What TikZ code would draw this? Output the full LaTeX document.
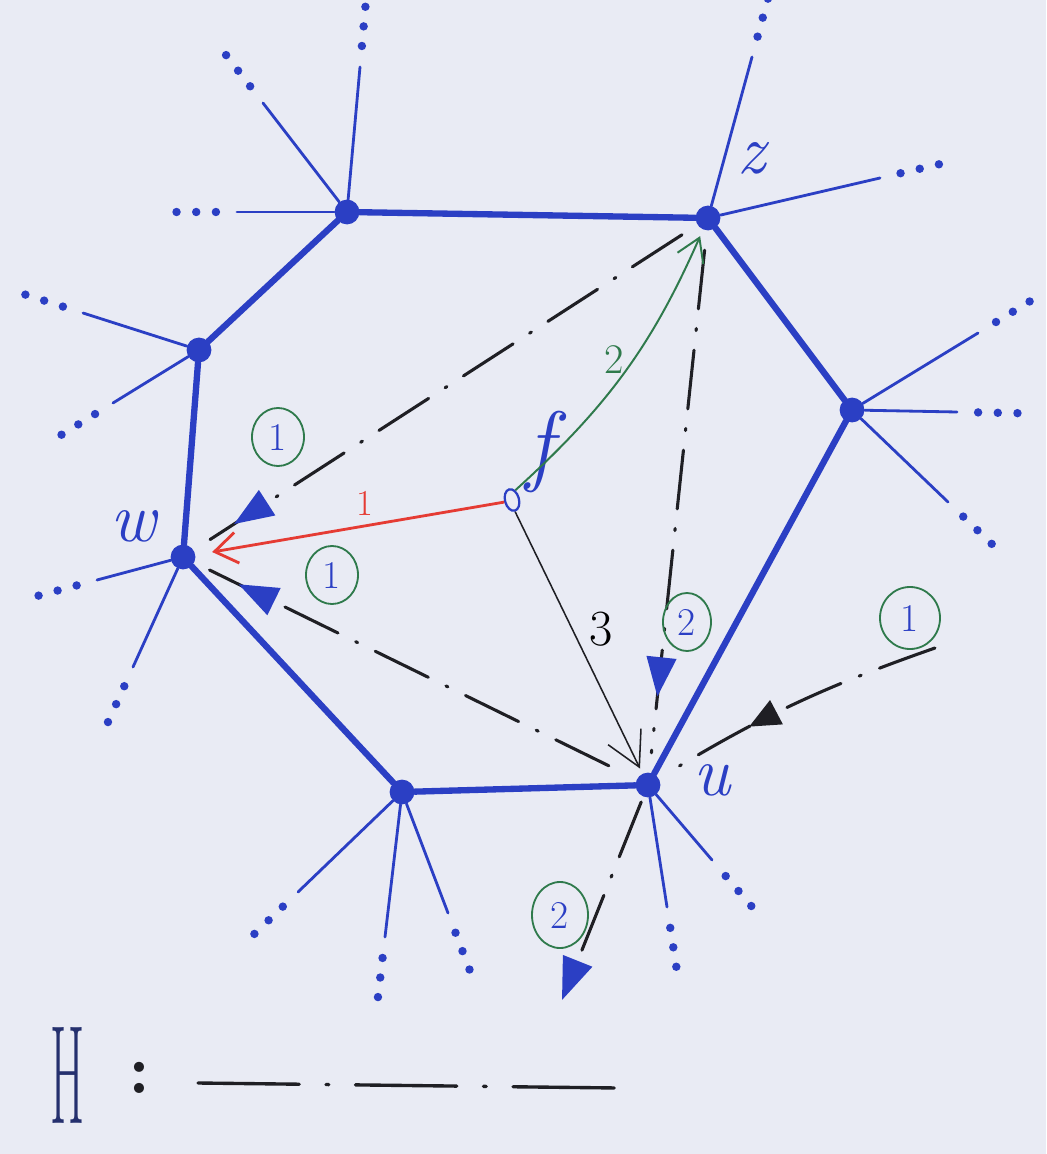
\documentclass[tikz,border=0pt]{standalone}
\usepackage{xcolor}
\usepackage{tikz}
\usetikzlibrary{shapes.geometric, arrows.meta, calc, decorations.markings}
\definecolor{ink}{HTML}{2B3FC4}
\definecolor{paper}{HTML}{E9EBF4}
\definecolor{redink}{HTML}{E53B33}
\definecolor{greenink}{HTML}{2F7A4C}
\definecolor{pen}{HTML}{1F1F24}
\definecolor{navy}{HTML}{25306E}

\begin{document}
\begin{tikzpicture}[
  x=0.025cm, y=-0.025cm,
  vtx/.style={circle, fill=ink, inner sep=0pt, minimum size=0.62cm},
  cyc/.style={draw=ink, line width=4.5pt, line cap=round, line join=round},
  leaf/.style={draw=ink, line width=2pt, line cap=round},
  hedge/.style={draw=pen, line width=2.2pt, line cap=round,
                dash pattern=on 42pt off 14pt on 1.5pt off 14pt},
  tipat/.style={postaction={decorate}, decoration={markings,
                mark=at position #1 with {\arrow{Triangle[length=28pt,width=21pt,color=ink]}}}},
  blktipat/.style={postaction={decorate}, decoration={markings,
                mark=at position #1 with {\arrow{Triangle[length=22pt,width=19pt,color=pen]}}}},
  tag/.style={ellipse, draw=greenink, line width=1.3pt, text=ink, inner sep=0pt,
              minimum width=1.3cm, minimum height=1.45cm, font=\fontsize{28}{28}\selectfont},
  lbl/.style={text=ink, font=\fontsize{50}{50}\selectfont\itshape},
  redarr/.style={draw=redink, line width=2pt, -{Straight Barb[length=16pt,width=22pt]}},
  greenarr/.style={draw=greenink, line width=1.4pt, -{Straight Barb[length=16pt,width=20pt]}},
  thinarr/.style={draw=pen, line width=1.1pt, -{Straight Barb[length=24pt,width=26pt]}},
  legend/.style={draw=pen, line width=2.4pt, line cap=round,
                 dash pattern=on 72pt off 19pt on 2pt off 19pt}
]
  \useasboundingbox (0,0) rectangle (1046,1154);
  \fill[paper] (0,0) rectangle (1046,1154);

  % vertices of the cycle
  \node[vtx] (a) at (347,212) {};
  \node[vtx] (z) at (708,218) {};
  \node[vtx] (r) at (852,410) {};
  \node[vtx] (u) at (648,785) {};
  \node[vtx] (b) at (402,792) {};
  \node[vtx] (w) at (183,557) {};
  \node[vtx] (l) at (199,350) {};

  \draw[cyc] (a) -- (z) -- (r) -- (u) -- (b) -- (w) -- (l) -- (a);

  % edges leaving the cycle
  \foreach \v/\x/\y in {a/360/67, a/263/103, a/237/212, l/83/313, l/113/403,
                        w/97/580, w/133/667, b/298/892, b/385/937, b/448/913,
                        u/667/907, u/712/860, r/978/333, r/957/412, r/948/502,
                        z/752/57, z/880/178}{
    \coordinate (e) at (\x,\y);
    \draw[leaf] (\v) -- (e);
    \foreach \d in {15pt,29pt,43pt}
      \fill[ink] ($(e)!-\d!(\v)$) circle (3pt);
  }

  \node[lbl] (lw) at (133,526) {w};
  \node[lbl] (lu) at (712,780) {u};
  \node[lbl] (lz) at (752,158) {z};

  % the point f
  \node[ellipse, draw=ink, line width=1.6pt, inner sep=0pt, minimum width=0.35cm,
        minimum height=0.55cm, rotate=15] (o) at (512,500) {};
  \node[lbl, font=\fontsize{64}{64}\selectfont\itshape] (lf) at (540,452) {f};

  % edges of H
  \draw[hedge, tipat=0.92, shorten <=13pt, shorten >=9pt] (z) -- (w);
  \draw[hedge, tipat=0.9, shorten <=22pt, shorten >=12pt] (u) -- (w);
  \draw[hedge, tipat=0.86, shorten <=14pt, shorten >=14pt] (z) -- (u);
  \coordinate (p) at (935,648);
  \draw[hedge, blktipat=0.66, shorten >=4pt] (p) to[bend right=6] (u);
  \coordinate (q) at (562,1000);
  \draw[hedge, shorten <=4pt, -{Triangle[length=30pt,width=22pt,color=ink]}] (u) -- (q);

  \node[tag] (t1) at (278,437) {1};
  \node[tag] (t2) at (332,575) {1};
  \node[tag, minimum width=1.2cm] (t3) at (687,622) {2};
  \node[tag, minimum width=1.5cm, minimum height=1.55cm] (t4) at (910,618) {1};
  \node[tag, minimum width=1.4cm, minimum height=1.65cm] (t5) at (560,915) {2};

  % moves of f
  \draw[redarr, shorten >=12pt] (o.west) -- node[pos=0.45, above=3pt, text=redink,
        font=\fontsize{26}{26}\selectfont] {1} (w);
  \draw[greenarr, shorten >=5pt] (o.north east) to[bend right=12]
        node[pos=0.55, left=3pt, text=greenink, font=\fontsize{30}{30}\selectfont] {2} (z);
  \draw[thinarr, shorten >=4pt] (o.south) -- node[pos=0.45, right=8pt,
        font=\fontsize{36}{36}\selectfont] {3} (u);

  % legend
  \node[text=navy, font=\fontsize{100}{100}\selectfont\rmfamily] (h) at (68,1075)
        {\scalebox{0.35}[1]{H}};
  \node[text=pen, font=\fontsize{50}{50}\selectfont\bfseries] (colon) at (140,1078) {:};
  \coordinate (h1) at (198,1083);
  \coordinate (h2) at (618,1088);
  \draw[legend] (h1) -- (h2);
\end{tikzpicture}
\end{document}
